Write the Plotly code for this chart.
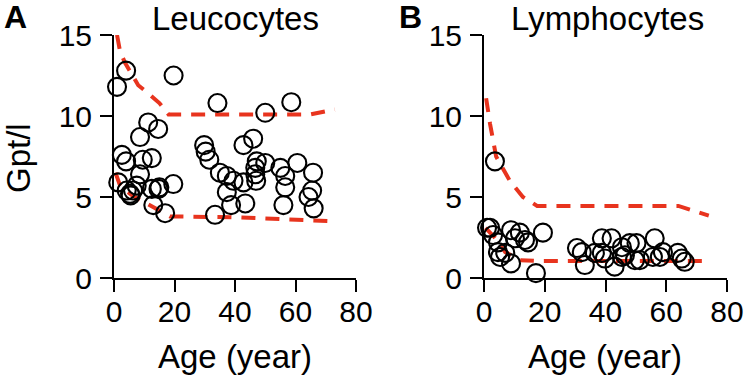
import plotly.graph_objects as go

# ---- Data ----
leuco_age = [1, 4, 19.7, 34.2, 50, 58.6,
             11.3, 14.6, 8.6, 29.8, 30.3, 31.5, 42.8, 46,
             2.6, 4, 12.5, 9.5, 1.4, 8.6, 15, 19.6,
             35, 39.5, 37.3, 47.2, 50, 46.7, 46.7, 47, 55, 56.6, 60.6, 65.8,
             4.2, 5.3, 6.3, 7.5, 5.5,
             12.5, 14.7, 13, 16.9, 33.4, 37.3, 38.7, 43.4, 42.8,
             56.6, 56, 65.5, 64.3, 66]
leuco_val = [11.8, 12.8, 12.5, 10.8, 10.2, 10.85,
             9.6, 9.2, 8.7, 8.2, 7.8, 7.3, 8.2, 8.6,
             7.6, 7.2, 7.4, 7.3, 5.9, 6.4, 5.6, 5.8,
             6.5, 6.0, 6.3, 7.2, 7.1, 6.8, 6.4, 6.0, 6.8, 6.3, 7.1, 6.5,
             5.4, 5.2, 5.4, 5.7, 5.1,
             5.5, 5.5, 4.5, 4.0, 3.9, 5.3, 4.5, 4.6, 5.9,
             5.6, 4.5, 5.4, 5.0, 4.3]

leuco_upper_age = [1, 2, 3.6, 6, 8, 11.3, 15, 18, 65, 73]
leuco_upper_val = [15, 14, 13.3, 12.5, 11.9, 11.4, 10.8, 10.1, 10.1, 10.4]
leuco_lower_age = [0.5, 2, 6, 11, 15, 18.5, 40, 72]
leuco_lower_val = [6.5, 5.7, 5.1, 4.6, 4.2, 3.8, 3.75, 3.5]

lympho_age = [3.6, 1, 2, 3, 4.6, 4.6, 5.3, 7, 8.9, 8.9, 10.2, 11.8, 13.5, 14.5,
              19.4, 17.1,
              30.6, 32.2, 33.2, 36.5, 38.8, 38.8, 39.8, 42, 43, 45.4, 45.4, 46.4,
              48, 50.2, 49.7, 51.3, 56.2, 55.6, 57.9, 58.9, 63.8, 65.1, 66.1]
lympho_val = [7.2, 3.1, 3.1, 2.65, 2.2, 1.6, 1.3, 1.55, 2.95, 0.9, 2.45, 2.8, 2.35, 2.2,
              2.8, 0.3,
              1.85, 1.6, 0.8, 1.55, 2.45, 1.55, 1.2, 2.45, 0.7, 1.9, 1.3, 1.4,
              2.15, 2.15, 1.1, 1.1, 2.45, 1.3, 1.3, 1.6, 1.55, 1.2, 1.0]

lympho_upper_age = [0.7, 2, 4, 8.5, 12.8, 17.5, 64, 74]
lympho_upper_val = [11.1, 9.5, 7.5, 6.0, 5.0, 4.45, 4.45, 3.85]
lympho_lower_age = [0.5, 3.5, 7, 12, 18, 73]
lympho_lower_val = [3.1, 2.5, 1.6, 1.1, 1.05, 1.05]

x_ticks = [0, 20, 40, 60, 80]
y_ticks = [0, 5, 10, 15]

RED = "#e8341e"
FONT = "Liberation Sans, Arial, sans-serif"

fig = go.Figure()

def add_panel(xa, ya, ages, vals, ua, uv, la, lv):
    fig.add_trace(go.Scatter(x=ua, y=uv, mode="lines", xaxis=xa, yaxis=ya,
                             line=dict(color=RED, width=4, dash="14px,10px"),
                             cliponaxis=False, hoverinfo="skip"))
    fig.add_trace(go.Scatter(x=la, y=lv, mode="lines", xaxis=xa, yaxis=ya,
                             line=dict(color=RED, width=4, dash="14px,10px"),
                             cliponaxis=False, hoverinfo="skip"))
    fig.add_trace(go.Scatter(x=ages, y=vals, mode="markers", xaxis=xa, yaxis=ya,
                             marker=dict(symbol="circle-open", size=18, color="black",
                                         line=dict(width=2.1, color="black")),
                             cliponaxis=False))

add_panel("x", "y", leuco_age, leuco_val, leuco_upper_age, leuco_upper_val,
          leuco_lower_age, leuco_lower_val)
add_panel("x2", "y2", lympho_age, lympho_val, lympho_upper_age, lympho_upper_val,
          lympho_lower_age, lympho_lower_val)

W, H = 747, 382
ydom = [(H - 278) / H, (H - 35) / H]
xdomA = [114 / W, 356 / W]
xdomB = [484 / W, 727 / W]

axis_common = dict(showline=True, linecolor="black", linewidth=2, ticks="outside",
                   ticklen=12, tickwidth=2, tickcolor="black", showgrid=False,
                   zeroline=False, automargin=False,
                   tickfont=dict(family=FONT, size=30, color="black"))

fig.update_layout(
    width=W, height=H, margin=dict(l=0, r=0, t=0, b=0),
    paper_bgcolor="white", plot_bgcolor="white", showlegend=False,
    xaxis=dict(domain=xdomA, range=[0, 80], tickvals=x_ticks, anchor="y",
               ticklabelstandoff=-6, **axis_common),
    yaxis=dict(domain=ydom, range=[0, 15], tickvals=y_ticks, anchor="x",
               ticklabelstandoff=2, **axis_common),
    xaxis2=dict(domain=xdomB, range=[0, 80], tickvals=x_ticks, anchor="y2",
                ticklabelstandoff=-6, **axis_common),
    yaxis2=dict(domain=ydom, range=[0, 15], tickvals=y_ticks, anchor="x2",
                ticklabelstandoff=2, **axis_common),
)

def ann(text, x, y, size=33, bold=False, angle=0, xanchor="center"):
    fig.add_annotation(text=f"<b>{text}</b>" if bold else text, x=x / W, y=1 - y / H,
                       xref="paper", yref="paper", showarrow=False, textangle=angle,
                       xanchor=xanchor, yanchor="middle",
                       font=dict(family=FONT, size=size, color="black"))

ann("A", 15, 17, size=32, bold=True)
ann("B", 411, 17, size=32, bold=True)
ann("Leucocytes", 235, 19, size=33)
ann("Lymphocytes", 607, 19, size=33)
ann("Age (year)", 235, 356)
ann("Age (year)", 605, 356)
ann("Gpt/l", 18, 158, angle=-90)

fig.write_html("out.html", config={"displayModeBar": False},
               post_script="document.body.style.margin='0px';")
